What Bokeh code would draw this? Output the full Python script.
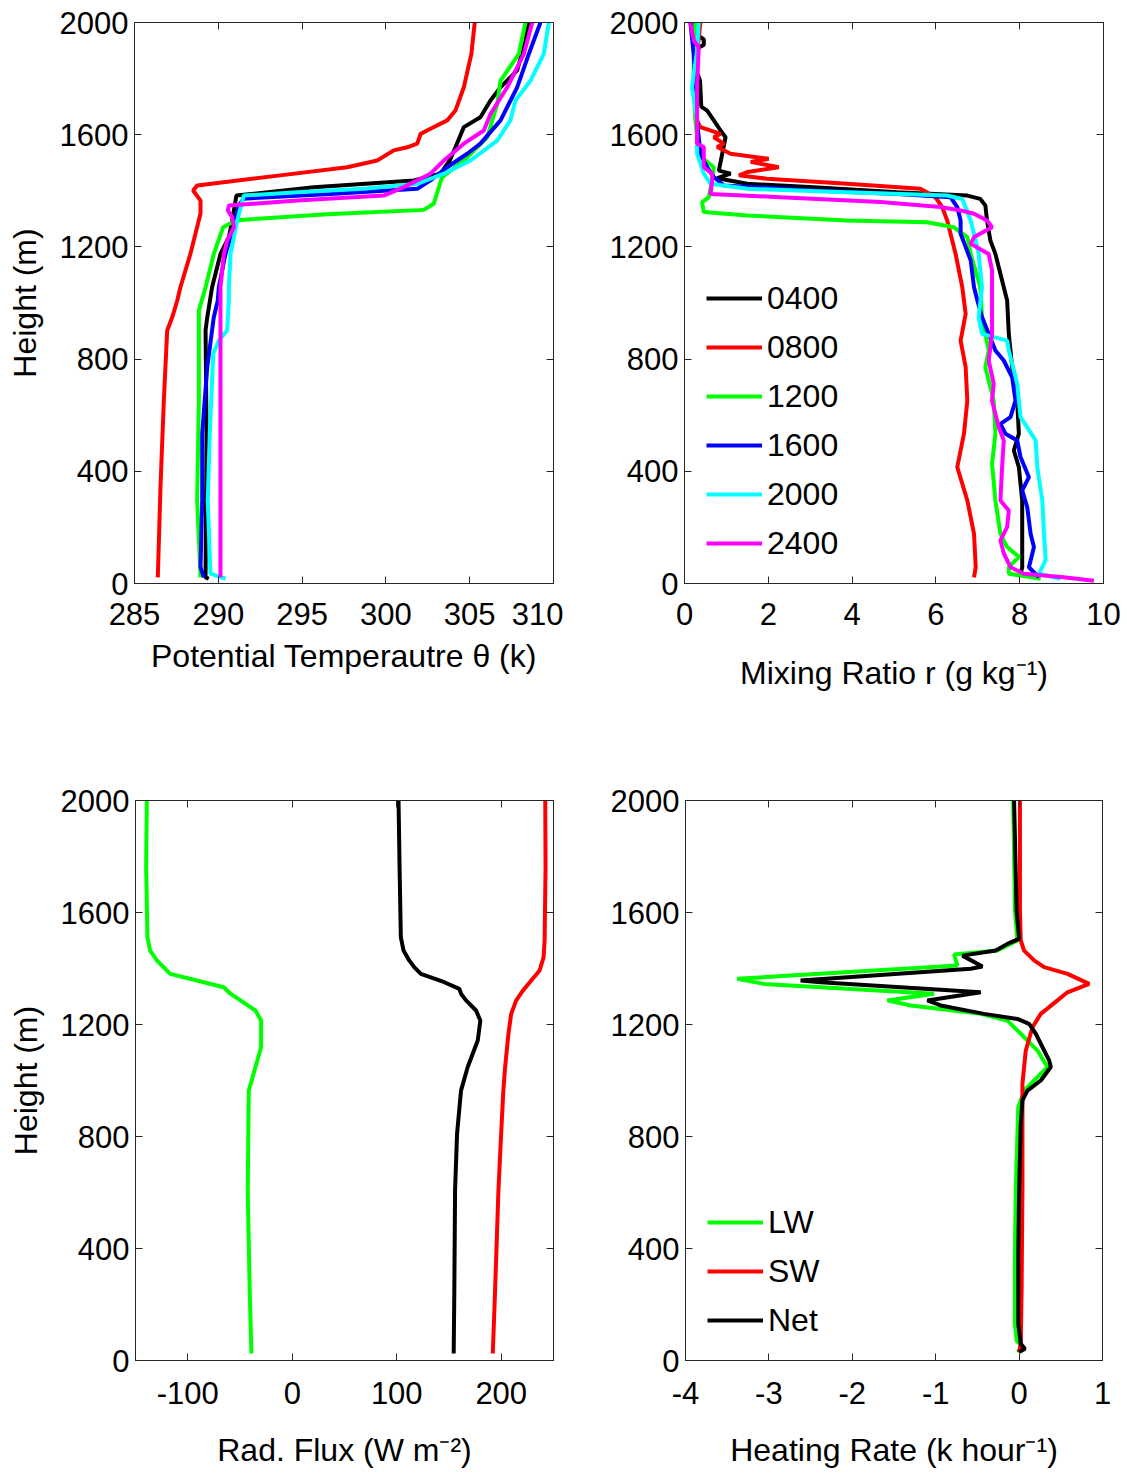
from bokeh.plotting import figure
from bokeh.layouts import column, row
from bokeh.models import (LinearAxis, Range1d, FixedTicker, Legend, LegendItem,
                          CustomLabelingPolicy)
from bokeh.embed import file_html
from bokeh.resources import INLINE

# ---------------- data ----------------
height_ticks = [0, 400, 800, 1200, 1600, 2000]
theta_ticks = [285, 290, 295, 300, 305, 310]
mix_ticks = [0, 2, 4, 6, 8, 10]
flux_ticks = [-100, 0, 100, 200]
heat_ticks = [-4, -3, -2, -1, 0, 1]

times = ["0400", "0800", "1200", "1600", "2000", "2400"]

# Potential temperature profiles (K) vs height (m)
theta_0400_z = [17, 22, 534, 902, 949, 1056, 1175, 1235, 1294, 1383, 1413, 1437, 1461, 1508, 1555, 1627, 1662, 1722, 1769, 1829, 1936, 2000]
theta_0400 = [289.43, 289.24, 289.30, 289.24, 289.34, 289.63, 290.13, 290.63, 290.83, 291.08, 295.70, 301.67, 303.26, 303.81, 304.15, 304.65, 305.64, 306.24, 306.84, 307.83, 308.33, 308.53]

theta_0800_z = [22, 343, 652, 902, 949, 1009, 1056, 1176, 1319, 1365, 1401, 1419, 1455, 1484, 1508, 1544, 1555, 1568, 1603, 1621, 1651, 1686, 1769, 1888, 2000]
theta_0800 = [286.39, 286.55, 286.75, 286.95, 287.25, 287.55, 287.74, 288.34, 288.94, 288.94, 288.50, 288.74, 293.70, 297.69, 299.48, 300.47, 301.27, 301.87, 302.07, 302.66, 303.66, 304.15, 304.65, 305.10, 305.30]

theta_1200_z = [22, 296, 652, 973, 1056, 1175, 1270, 1290, 1296, 1316, 1332, 1354, 1413, 1449, 1508, 1591, 1710, 1793, 1888, 2000]
theta_1200 = [288.94, 288.74, 288.84, 288.84, 289.24, 289.73, 290.29, 290.90, 291.30, 296.50, 302.26, 302.86, 303.16, 303.36, 304.65, 306.05, 306.64, 306.84, 307.93, 308.33]

theta_1600_z = [22, 58, 296, 534, 771, 949, 1009, 1056, 1175, 1294, 1348, 1372, 1389, 1407, 1437, 1484, 1532, 1568, 1651, 1769, 1888, 2000]
theta_1600 = [289.14, 288.94, 289.04, 289.04, 289.34, 289.73, 289.97, 290.03, 290.43, 291.03, 291.22, 291.52, 296.69, 301.87, 302.66, 303.66, 304.85, 305.64, 306.84, 307.83, 308.53, 309.22]

theta_2000_z = [17, 35, 296, 534, 819, 866, 902, 1009, 1056, 1175, 1294, 1383, 1395, 1407, 1425, 1461, 1508, 1579, 1651, 1722, 1793, 1888, 2000]
theta_2000 = [290.43, 289.53, 289.37, 289.49, 289.70, 290.03, 290.53, 290.63, 290.63, 290.73, 291.13, 291.52, 294.71, 298.68, 301.87, 303.46, 305.05, 306.64, 307.43, 307.73, 308.63, 309.42, 309.72]

theta_2400_z = [22, 652, 949, 1056, 1175, 1223, 1270, 1306, 1330, 1348, 1365, 1383, 1413, 1461, 1508, 1568, 1615, 1674, 1769, 1888, 2000]
theta_2400 = [290.13, 290.13, 290.13, 290.13, 290.33, 290.53, 290.93, 290.83, 290.57, 290.63, 294.71, 299.87, 301.07, 302.66, 303.46, 304.65, 305.84, 306.24, 307.24, 308.23, 308.73]

# Mixing ratio profiles (g/kg) vs height (m)
mix_0400_z = [35, 58, 177, 296, 415, 474, 534, 652, 771, 890, 1009, 1056, 1175, 1223, 1294, 1348, 1371, 1383, 1395, 1413, 1425, 1445, 1461, 1472, 1532, 1591, 1615, 1651, 1686, 1700, 1793, 1820, 1905, 1920, 1940, 1960, 2000]
mix_0400 = [8.02, 8.06, 8.06, 8.06, 7.98, 7.86, 7.98, 7.94, 7.82, 7.74, 7.70, 7.62, 7.42, 7.30, 7.22, 7.18, 7.06, 6.75, 5.08, 3.09, 1.50, 0.78, 1.10, 0.82, 0.90, 0.98, 0.86, 0.70, 0.54, 0.40, 0.37, 0.30, 0.26, 0.46, 0.46, 0.26, 0.22]

mix_0800_z = [22, 58, 177, 296, 415, 534, 652, 771, 866, 961, 1056, 1175, 1294, 1342, 1377, 1407, 1425, 1443, 1455, 1467, 1484, 1503, 1514, 1532, 1556, 1568, 1591, 1603, 1627, 1662, 1769, 1888, 2000]
mix_0800 = [6.91, 6.95, 6.91, 6.75, 6.51, 6.67, 6.75, 6.71, 6.59, 6.71, 6.63, 6.47, 6.27, 6.15, 5.99, 5.63, 3.88, 1.97, 1.30, 1.50, 2.25, 1.58, 2.01, 1.10, 0.78, 0.94, 0.70, 0.86, 0.38, 0.26, 0.26, 0.30, 0.38]

mix_1200_z = [17, 35, 58, 95, 130, 177, 296, 427, 534, 652, 771, 830, 950, 1056, 1175, 1235, 1270, 1288, 1294, 1312, 1324, 1360, 1377, 1437, 1484, 1508, 1532, 1651, 1769, 1888, 2000]
mix_1200 = [8.50, 7.74, 7.74, 7.98, 7.70, 7.54, 7.42, 7.34, 7.42, 7.38, 7.18, 7.26, 7.10, 7.06, 6.83, 6.75, 6.43, 5.79, 3.88, 1.50, 0.46, 0.42, 0.58, 0.66, 0.70, 0.50, 0.34, 0.26, 0.22, 0.22, 0.26]

mix_1600_z = [22, 58, 130, 177, 272, 332, 379, 451, 510, 534, 569, 593, 652, 735, 795, 831, 950, 1009, 1056, 1152, 1200, 1247, 1294, 1342, 1377, 1389, 1401, 1419, 1449, 1484, 1532, 1651, 1888, 2000]
mix_1600 = [8.46, 8.22, 8.34, 8.26, 8.18, 8.06, 8.22, 8.02, 7.94, 7.66, 7.54, 7.78, 7.90, 7.82, 7.62, 7.42, 7.10, 6.99, 6.91, 6.83, 6.71, 6.59, 6.59, 6.51, 6.35, 5.08, 3.09, 0.94, 0.70, 0.54, 0.38, 0.30, 0.22, 0.14]

mix_2000_z = [17, 35, 83, 177, 296, 415, 510, 593, 712, 831, 866, 890, 950, 1056, 1175, 1223, 1294, 1371, 1383, 1395, 1407, 1425, 1461, 1532, 1651, 1769, 1900, 2000]
mix_2000 = [8.97, 8.46, 8.62, 8.58, 8.54, 8.42, 8.38, 8.02, 7.94, 7.74, 7.70, 7.10, 7.02, 7.10, 7.02, 6.95, 6.83, 6.63, 6.27, 3.88, 1.50, 0.62, 0.46, 0.30, 0.30, 0.18, 0.30, 0.34]

mix_2400_z = [10, 22, 35, 58, 107, 154, 201, 260, 296, 415, 510, 557, 652, 712, 795, 890, 950, 1056, 1116, 1175, 1211, 1235, 1270, 1294, 1318, 1330, 1342, 1360, 1377, 1389, 1437, 1461, 1484, 1556, 1568, 1769, 1912, 1936, 2000]
mix_2400 = [9.77, 9.05, 8.10, 7.78, 7.62, 7.54, 7.70, 7.74, 7.54, 7.58, 7.62, 7.50, 7.34, 7.38, 7.26, 7.34, 7.34, 7.34, 7.34, 7.26, 6.83, 6.91, 7.34, 7.22, 6.91, 6.59, 6.11, 4.68, 2.29, 0.62, 0.66, 0.66, 0.46, 0.46, 0.30, 0.30, 0.34, 0.22, 0.14]

# Radiative flux (W m-2) vs height (m)
flux_lw_z = [25, 250, 607, 964, 1048, 1119, 1214, 1250, 1286, 1310, 1333, 1357, 1381, 1405, 1429, 1464, 1512, 1762, 2000]
flux_lw = [-39.1, -40.7, -42.6, -41.6, -35.2, -29.8, -29.8, -35.2, -49.6, -59.2, -65.6, -91.2, -116.8, -123.2, -129.6, -136.0, -138.6, -139.8, -139.2]

flux_sw_z = [25, 250, 607, 810, 964, 1048, 1167, 1238, 1286, 1321, 1357, 1393, 1440, 1500, 1762, 2000]
flux_sw = [191.9, 194.1, 197.3, 199.9, 202.0, 203.7, 206.9, 209.5, 214.3, 220.7, 228.7, 236.7, 240.5, 241.5, 242.4, 242.1]

flux_net_z = [25, 250, 607, 810, 964, 1048, 1143, 1214, 1250, 1286, 1310, 1327, 1351, 1381, 1405, 1429, 1464, 1512, 1762, 2000]
flux_net = [154.5, 155.1, 155.8, 157.7, 161.5, 167.9, 177.5, 180.0, 175.9, 166.3, 161.5, 159.9, 145.5, 123.1, 116.7, 111.9, 106.5, 103.9, 102.7, 101.7]

# Heating rate (K/hour) vs height (m)
heat_lw_z = [30, 48, 71, 131, 369, 607, 905, 929, 964, 1000, 1048, 1107, 1167, 1214, 1238, 1268, 1286, 1310, 1345, 1363, 1411, 1450, 1464, 1500, 1607, 2000]
heat_lw = [-0.02, 0.04, -0.03, -0.05, -0.05, -0.04, -0.01, 0.02, 0.06, 0.18, 0.34, 0.22, 0.02, -0.14, -0.46, -1.30, -1.58, -1.02, -3.06, -3.38, -0.74, -0.78, -0.26, -0.02, -0.05, -0.07]

heat_sw_z = [30, 60, 250, 607, 988, 1107, 1190, 1238, 1286, 1315, 1345, 1381, 1405, 1429, 1464, 1500, 1607, 2000]
heat_sw = [0.00, 0.02, 0.03, 0.04, 0.04, 0.08, 0.16, 0.26, 0.46, 0.58, 0.84, 0.58, 0.30, 0.18, 0.06, 0.02, 0.01, 0.01]

heat_net_z = [30, 42, 60, 131, 369, 607, 845, 929, 964, 1000, 1048, 1072, 1167, 1202, 1220, 1238, 1268, 1286, 1315, 1351, 1357, 1399, 1407, 1446, 1464, 1488, 1506, 1607, 2000]
heat_net = [0.00, 0.07, 0.02, -0.01, -0.01, 0.00, 0.02, 0.04, 0.10, 0.26, 0.38, 0.36, 0.20, 0.12, -0.02, -0.42, -0.94, -1.10, -0.46, -2.38, -2.62, -0.58, -0.44, -0.68, -0.28, -0.14, 0.00, -0.03, -0.06]

# ---------------- styling ----------------
FONT = "Liberation Sans"
AX = "#262626"
LW = 4


def no_labels():
    return CustomLabelingPolicy(code="""
        for (const i of indices) { indices.unset(i) }
        return indices
    """)


def style_axis(ax, ticks, show_labels=True, label_standoff=12):
    ax.ticker = FixedTicker(ticks=ticks)
    ax.major_label_overrides = {t: str(t) for t in ticks}
    ax.major_tick_in = 7
    ax.major_tick_out = 0
    ax.minor_tick_line_color = None
    ax.axis_line_color = AX
    ax.major_tick_line_color = AX
    ax.major_label_text_font = FONT
    ax.major_label_text_color = "black"
    if show_labels:
        ax.major_label_text_font_size = "31px"
        ax.major_label_standoff = label_standoff
    else:
        ax.major_label_text_font_size = "0px"
        ax.major_label_standoff = 0
        ax.major_label_policy = no_labels()
    ax.axis_label_text_font = FONT
    ax.axis_label_text_font_style = "normal"
    ax.axis_label_text_font_size = "32px"
    ax.axis_label_text_color = "black"


def make_fig(xr, xticks, ml, mr, mt, mb, fw, fh, xlabel, ylabel,
             x_lab_std, x_tick_std, y_lab_std=14):
    p = figure(width=ml + fw + mr, height=mt + fh + mb,
               x_range=Range1d(*xr), y_range=Range1d(0, 2000),
               output_backend="svg", toolbar_location=None, tools="",
               min_border_left=ml, min_border_right=mr,
               min_border_top=mt, min_border_bottom=mb)
    p.grid.visible = False
    p.outline_line_color = AX
    p.background_fill_color = "white"
    p.border_fill_color = "white"
    style_axis(p.xaxis[0], xticks, True, x_tick_std)
    style_axis(p.yaxis[0], height_ticks, True, 6)
    p.xaxis[0].axis_label = xlabel
    p.xaxis[0].axis_label_standoff = x_lab_std
    if ylabel:
        p.yaxis[0].axis_label = ylabel
        p.yaxis[0].axis_label_standoff = y_lab_std
    top = LinearAxis()
    style_axis(top, xticks, False)
    p.add_layout(top, "above")
    right = LinearAxis()
    style_axis(right, height_ticks, False)
    p.add_layout(right, "right")
    return p


def make_legend(items, loc):
    lg = Legend(items=items, location=loc, orientation="vertical")
    lg.glyph_width = 56
    lg.glyph_height = 46
    lg.label_height = 46
    lg.label_standoff = 5
    lg.spacing = 3
    lg.padding = 0
    lg.margin = 0
    lg.border_line_color = None
    lg.background_fill_alpha = 0
    lg.label_text_font = FONT
    lg.label_text_font_size = "32px"
    lg.label_text_color = "black"
    return lg


colors = ["#000000", "#ff0000", "#00ff00", "#0000ff", "#00ffff", "#ff00ff"]

# ---- top-left: potential temperature ----
p1 = make_fig((285, 310), theta_ticks, 134, 10, 22, 197, 419, 561,
              "Potential Temperautre \u03b8 (k)", "Height (m)", 10, 19)
theta_sets = [(theta_0400, theta_0400_z), (theta_0800, theta_0800_z),
              (theta_1200, theta_1200_z), (theta_1600, theta_1600_z),
              (theta_2000, theta_2000_z), (theta_2400, theta_2400_z)]
for (xv, zv), c in zip(theta_sets, colors):
    p1.line(xv, zv, line_color=c, line_width=LW)

# ---- top-right: mixing ratio ----
p2 = make_fig((0, 10), mix_ticks, 121, 24, 22, 197, 419, 561,
              "Mixing Ratio r (g kg\u207b\u00b9)", None, 27, 19)
mix_sets = [(mix_0400, mix_0400_z), (mix_0800, mix_0800_z),
            (mix_1200, mix_1200_z), (mix_1600, mix_1600_z),
            (mix_2000, mix_2000_z), (mix_2400, mix_2400_z)]
items = []
for (xv, zv), c, t in zip(mix_sets, colors, times):
    r = p2.line(xv, zv, line_color=c, line_width=LW)
    items.append(LegendItem(label=t, renderers=[r]))
p2.add_layout(make_legend(items, (22, 17)))

# ---- bottom-left: radiative flux ----
p3 = make_fig((-150, 250), flux_ticks, 135, 10, 20, 114, 418, 560,
              "Rad. Flux (W m\u207b\u00b2)", "Height (m)", 25, 21)
p3.line(flux_lw, flux_lw_z, line_color="#00ff00", line_width=LW)
p3.line(flux_net, flux_net_z, line_color="#000000", line_width=LW)
p3.line(flux_sw, flux_sw_z, line_color="#ff0000", line_width=LW)

# ---- bottom-right: heating rate ----
p4 = make_fig((-4, 1), heat_ticks, 122, 25, 20, 114, 417, 560,
              "Heating Rate (k hour\u207b\u00b9)", None, 25, 21)
r_lw = p4.line(heat_lw, heat_lw_z, line_color="#00ff00", line_width=LW)
r_sw = p4.line(heat_sw, heat_sw_z, line_color="#ff0000", line_width=LW)
r_net = p4.line(heat_net, heat_net_z, line_color="#000000", line_width=LW)
p4.add_layout(make_legend([LegendItem(label="LW", renderers=[r_lw]),
                           LegendItem(label="SW", renderers=[r_sw]),
                           LegendItem(label="Net", renderers=[r_net])], (22, 17)))

layout = column(row(p1, p2), row(p3, p4))
open("out.html", "w").write(file_html(layout, INLINE))
